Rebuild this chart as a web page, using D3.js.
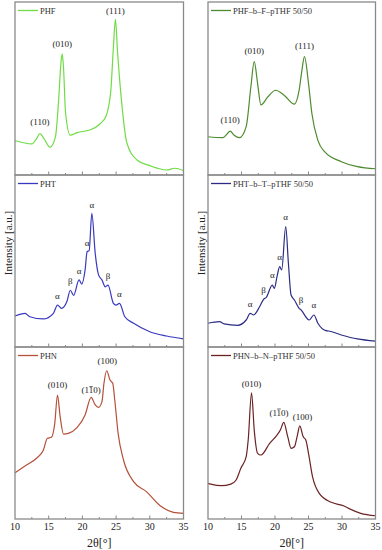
<!DOCTYPE html>
<html><head><meta charset="utf-8">
<script src="https://cdn.jsdelivr.net/npm/d3@7"></script>
<style>body{margin:0;background:#fff}svg{display:block}text{font-family:"Liberation Serif","DejaVu Serif",serif}</style>
</head><body><svg id="c" width="382" height="550"></svg>
<script>
// ---- data (2θ in degrees, intensity in arbitrary units 0-100) ----
const xTicks = [10, 15, 20, 25, 30, 35];
const xMinor = [12.5, 17.5, 22.5, 27.5, 32.5];

const phfAngle = [10, 12.5, 13.2, 13.7, 14.3, 15.2, 16.0, 16.5, 16.8, 17.0, 17.2, 17.5, 18.2, 19.2, 21.1, 22.6, 23.5, 24.2, 24.6, 24.9, 25.2, 25.8, 26.6, 28.1, 30, 32.5, 33.7, 35];
const phfInt   = [19.8, 18, 21, 24, 21, 16, 22, 45, 64, 70, 62, 36, 23, 24.5, 26, 29.5, 34, 48, 74, 90, 72, 43, 18.5, 8.7, 5.4, 2.9, 3.9, 2.5];

const phfbAngle = [10, 12.2, 12.8, 13.3, 13.9, 14.7, 15.7, 16.4, 16.9, 17.4, 17.9, 18.9, 20.1, 21.4, 22.9, 23.6, 24.0, 24.4, 25.0, 25.5, 26.4, 27.4, 29.9, 32.3, 35];
const phfbInt   = [22.1, 21.6, 23.5, 25.4, 23, 21.6, 28, 51, 65.5, 53, 40.5, 45, 49, 46, 41, 49, 60, 68.4, 53, 35.7, 20, 13.5, 7.7, 4.8, 3.6];

const phtAngle = [10, 11.5, 12.2, 14.2, 15.7, 16.3, 16.9, 17.7, 18.2, 18.7, 19.5, 19.9, 20.4, 20.7, 21.0, 21.4, 21.9, 22.4, 22.9, 23.4, 23.8, 24.6, 25.0, 25.5, 26.3, 27.6, 30, 32.5, 35];
const phtInt   = [18, 19.6, 17.6, 16.3, 19.6, 24.4, 22.5, 26.4, 33, 30, 39, 36.6, 44.8, 55.4, 56, 77.7, 54.5, 41.9, 39, 35, 36, 25.4, 24.4, 25.4, 17.6, 13.8, 8.9, 6.4, 4.7];

const phtbAngle = [10, 11.7, 12.4, 14.4, 15.7, 16.3, 16.8, 17.7, 18.3, 18.7, 19.6, 19.9, 20.3, 20.7, 21.0, 21.6, 22.0, 22.4, 22.9, 23.6, 23.9, 25.1, 25.8, 26.4, 27.6, 28.0, 29.9, 32.3, 35];
const phtbInt   = [13.8, 14.7, 13.4, 12.6, 15.7, 19.6, 18.6, 23.4, 27.7, 28.9, 36, 34.1, 40.9, 46.7, 44.8, 70, 48.7, 30.2, 27.3, 22.5, 21.5, 15.7, 18.6, 13.8, 9.5, 9.3, 7, 4.7, 3.4];

const phnAngle = [10, 11.7, 13.2, 14.2, 14.8, 15.4, 15.9, 16.3, 16.7, 17.2, 17.9, 19.2, 20.4, 21.3, 21.9, 22.4, 22.9, 23.2, 23.6, 24.1, 24.5, 24.8, 25.3, 26.1, 27.6, 29.5, 31.5, 33.5, 35];
const phnInt   = [26.9, 31.4, 35.3, 40, 46.9, 47.5, 55.6, 72, 59.5, 49.4, 49.8, 53.1, 60.5, 70.7, 66.3, 64.9, 68.2, 78.9, 86.2, 80.8, 78.9, 69.2, 49.8, 34.3, 21.7, 15.9, 7.8, 3.9, 3.3];

const phnbAngle = [10, 10.4, 12, 13.4, 14.2, 14.9, 15.7, 16.0, 16.5, 16.9, 17.4, 17.9, 19.2, 20.3, 20.8, 21.3, 21.9, 22.4, 22.9, 23.3, 23.7, 24.2, 24.6, 25.0, 25.6, 26.6, 28.4, 30.3, 31.0, 32.8, 35];
const phnbInt   = [20.7, 20.3, 19.4, 20.3, 22.7, 29.5, 36.2, 45.9, 73.4, 51.7, 38.2, 37.2, 44, 48.8, 51.7, 56.2, 47.9, 41.1, 42, 47.9, 54.1, 47.9, 45.9, 38.2, 24.6, 14.9, 9.7, 7.6, 6.2, 3.3, 1.9];

const seriesNames = ["PHF", "PHF–b–F–pTHF 50/50", "PHT", "PHT–b–T–pTHF 50/50", "PHN", "PHN–b–N–pTHF 50/50"];
const seriesColors = ["#6fdc45", "#4e8b2e", "#3838c0", "#2c2c86", "#b5503a", "#6b2222"];

// peak annotations: [angle, intensity position, text, index of char with overbar (-1 none)]
const phfLabels  = [[13.7, 29, "(110)", -1], [17.0, 74, "(010)", -1], [24.9, 93, "(111)", -1]];
const phfbLabels = [[13.3, 30, "(110)", -1], [16.9, 70, "(010)", -1], [24.4, 73, "(111)", -1]];
const phtLabels  = [[16.3, 28, "α", -1], [18.2, 36.5, "β", -1], [19.5, 42.5, "α", -1], [20.7, 59, "α", -1], [21.4, 81, "α", -1], [23.8, 39.5, "β", -1], [25.5, 29, "α", -1]];
const phtbLabels = [[16.3, 23.5, "α", -1], [18.3, 31.5, "β", -1], [19.6, 40, "α", -1], [20.7, 50.5, "α", -1], [21.6, 74, "α", -1], [23.9, 25.5, "β", -1], [25.8, 22.5, "α", -1]];
const phnLabels  = [[16.3, 76, "(010)", -1], [21.3, 73, "(110)", 2], [23.7, 90, "(100)", -1]];
const phnbLabels = [[16.5, 77, "(010)", -1], [20.6, 60, "(110)", 2], [24.1, 57.5, "(100)", -1]];

// ---- layout ----
const svg = d3.select("#c");
const cols = [[15, 183.5], [208, 375.5]];
const rows = [[2, 175], [175, 347], [347, 519]];

const panels = [
  {a: phfAngle,  v: phfInt,  lab: phfLabels},
  {a: phfbAngle, v: phfbInt, lab: phfbLabels},
  {a: phtAngle,  v: phtInt,  lab: phtLabels},
  {a: phtbAngle, v: phtbInt, lab: phtbLabels},
  {a: phnAngle,  v: phnInt,  lab: phnLabels},
  {a: phnbAngle, v: phnbInt, lab: phnbLabels}
];

panels.forEach((p, i) => {
  const c = cols[i % 2], r = rows[Math.floor(i / 2)];
  const x = d3.scaleLinear().domain([10, 35]).range(c);
  const y = d3.scaleLinear().domain([0, 100]).range([r[1], r[0]]);
  const g = svg.append("g");
  const color = seriesColors[i];

  // curve
  const pts = p.a.map((d, k) => [d, p.v[k]]);
  g.append("path").datum(pts)
    .attr("fill", "none").attr("stroke", color).attr("stroke-width", 1.2)
    .attr("stroke-linejoin", "round")
    .attr("d", d3.line().x(d => x(d[0])).y(d => y(d[1])).curve(d3.curveMonotoneX));

  // ticks (inward)
  const bottom = r[1];
  g.selectAll(".maj").data(xTicks.slice(1, -1)).enter().append("line")
    .attr("x1", d => x(d)).attr("x2", d => x(d)).attr("y1", bottom).attr("y2", bottom - 3.5)
    .attr("stroke", "#888").attr("stroke-width", 1);
  g.selectAll(".min").data(xMinor).enter().append("line")
    .attr("x1", d => x(d)).attr("x2", d => x(d)).attr("y1", bottom).attr("y2", bottom - 2)
    .attr("stroke", "#888").attr("stroke-width", 1);

  // frame
  g.append("rect").attr("x", c[0]).attr("y", r[0]).attr("width", c[1] - c[0]).attr("height", r[1] - r[0])
    .attr("fill", "none").attr("stroke", "#8a8a8a").attr("stroke-width", 1.3);

  // legend
  const ly = r[0] + 8.5;
  g.append("line").attr("x1", c[0] + 3).attr("x2", c[0] + 23).attr("y1", ly).attr("y2", ly)
    .attr("stroke", color).attr("stroke-width", 1.3);
  g.append("text").attr("x", c[0] + 25).attr("y", ly + 3).attr("font-size", 8.5).attr("fill", "#333")
    .text(seriesNames[i]);

  // annotations
  g.selectAll(".lab").data(p.lab).enter().append("text")
    .attr("x", d => x(d[0])).attr("y", d => y(d[1]))
    .attr("text-anchor", "middle").attr("font-size", 9).attr("fill", "#222")
    .text(d => d[2])
    .each(function(d) {
      if (d[3] >= 0) {
        const ext = this.getExtentOfChar(d[3]);
        g.append("line")
          .attr("x1", ext.x + 0.6).attr("x2", ext.x + ext.width - 0.4)
          .attr("y1", ext.y + 1.2).attr("y2", ext.y + 1.2)
          .attr("stroke", "#222").attr("stroke-width", 0.7);
      }
    });

  // bottom axis labels
  if (Math.floor(i / 2) === 2) {
    g.selectAll(".tl").data(xTicks).enter().append("text")
      .attr("x", d => x(d)).attr("y", bottom + 10.5)
      .attr("text-anchor", "middle").attr("font-size", 10).attr("fill", "#222")
      .text(d => d);
    g.append("text").attr("x", (c[0] + c[1]) / 2).attr("y", bottom + 28)
      .attr("text-anchor", "middle").attr("font-size", 12).attr("fill", "#222")
      .text("2θ[°]");
  }
  // y-axis title
  if (Math.floor(i / 2) === 1) {
    g.append("text").attr("transform", `translate(${c[0] - 3},243) rotate(-90)`)
      .attr("text-anchor", "middle").attr("font-size", 11).attr("fill", "#222")
      .text("Intensity [a.u.]");
  }
});
</script></body></html>
